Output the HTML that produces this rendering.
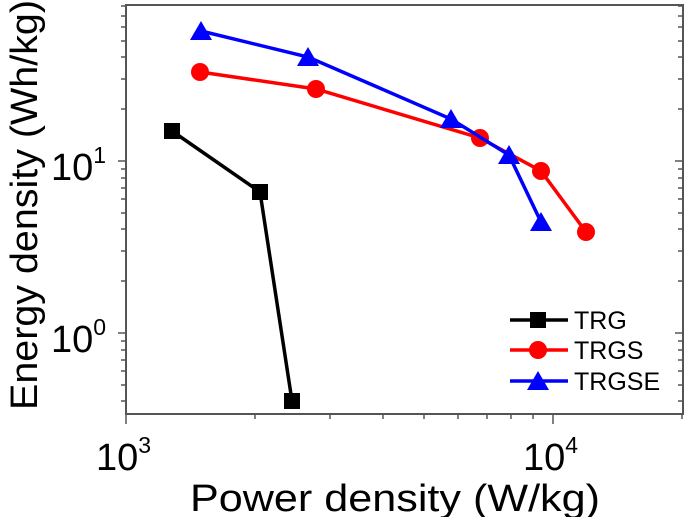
<!DOCTYPE html>
<html><head><style>html,body{margin:0;padding:0;background:#fff;}svg{display:block;}</style></head>
<body>
<svg width="685" height="517" viewBox="0 0 685 517" xmlns="http://www.w3.org/2000/svg" font-family="Liberation Sans, Arial, sans-serif">
<rect width="685" height="517" fill="#fff"/>
<rect x="126" y="5" width="557" height="409" fill="none" stroke="#555" stroke-width="2"/>
<g stroke="#555" stroke-width="1.5">
<line x1="118" y1="161" x2="126" y2="161"/><line x1="118" y1="333" x2="126" y2="333"/>
<line x1="683" y1="161" x2="675" y2="161"/><line x1="683" y1="333" x2="675" y2="333"/>
<g id="ym">
<line x1="121" y1="401" x2="126" y2="401"/>
<line x1="121" y1="385" x2="126" y2="385"/>
<line x1="121" y1="371" x2="126" y2="371"/>
<line x1="121" y1="360" x2="126" y2="360"/>
<line x1="121" y1="350" x2="126" y2="350"/>
<line x1="121" y1="341" x2="126" y2="341"/>
<line x1="121" y1="281" x2="126" y2="281"/>
<line x1="121" y1="251" x2="126" y2="251"/>
<line x1="121" y1="229" x2="126" y2="229"/>
<line x1="121" y1="213" x2="126" y2="213"/>
<line x1="121" y1="199" x2="126" y2="199"/>
<line x1="121" y1="188" x2="126" y2="188"/>
<line x1="121" y1="178" x2="126" y2="178"/>
<line x1="121" y1="169" x2="126" y2="169"/>
<line x1="121" y1="109" x2="126" y2="109"/>
<line x1="121" y1="79" x2="126" y2="79"/>
<line x1="121" y1="57" x2="126" y2="57"/>
<line x1="121" y1="41" x2="126" y2="41"/>
<line x1="121" y1="27" x2="126" y2="27"/>
<line x1="121" y1="16" x2="126" y2="16"/>
<line x1="121" y1="6" x2="126" y2="6"/>
</g>
<use href="#ym" transform="translate(557,0)"/>
<line x1="126" y1="414" x2="126" y2="424"/><line x1="553" y1="414" x2="553" y2="424"/>
<g>
<line x1="255" y1="414" x2="255" y2="419"/>
<line x1="330" y1="414" x2="330" y2="419"/>
<line x1="383" y1="414" x2="383" y2="419"/>
<line x1="424" y1="414" x2="424" y2="419"/>
<line x1="458" y1="414" x2="458" y2="419"/>
<line x1="487" y1="414" x2="487" y2="419"/>
<line x1="511" y1="414" x2="511" y2="419"/>
<line x1="533" y1="414" x2="533" y2="419"/>
<line x1="682" y1="414" x2="682" y2="419"/>
</g>
</g>
<g fill="#000" font-size="38">
<text x="51" y="180">10<tspan font-size="23" dy="-17">1</tspan></text>
<text x="51" y="352">10<tspan font-size="23" dy="-17">0</tspan></text>
<text x="96" y="470">10<tspan font-size="23" dy="-17">3</tspan></text>
<text x="523" y="470">10<tspan font-size="23" dy="-17">4</tspan></text>
</g>
<text x="190" y="511" font-size="38" textLength="410" lengthAdjust="spacingAndGlyphs">Power density (W/kg)</text>
<text transform="translate(37,410) rotate(-90)" font-size="38" textLength="410" lengthAdjust="spacingAndGlyphs">Energy density (Wh/kg)</text>
<polyline points="172,131 260,192 292,401" fill="none" stroke="#000" stroke-width="3.5"/>
<g fill="#000"><rect x="164" y="123" width="16" height="16"/><rect x="252" y="184" width="16" height="16"/><rect x="284" y="393" width="16" height="16"/></g>
<polyline points="200,72 316,89 480,138 541,171 586,232" fill="none" stroke="#f00" stroke-width="3.5"/>
<g fill="#f00"><circle cx="200" cy="72" r="9"/><circle cx="316" cy="89" r="9"/><circle cx="480" cy="138" r="9"/><circle cx="541" cy="171" r="9"/><circle cx="586" cy="232" r="9"/></g>
<polyline points="201,31 308,57 451,119 509,155 541,222" fill="none" stroke="#00f" stroke-width="3.5"/>
<g fill="#00f">
<polygon points="201,21 190,40 212,40"/><polygon points="308,47 297,66 319,66"/><polygon points="451,109 440,128 462,128"/><polygon points="509,145 498,164 520,164"/><polygon points="541,212 530,231 552,231"/>
</g>
<line x1="510" y1="320" x2="568" y2="320" stroke="#000" stroke-width="3.5"/>
<rect x="530" y="312" width="16" height="16" fill="#000"/>
<line x1="510" y1="350" x2="568" y2="350" stroke="#f00" stroke-width="3.5"/>
<circle cx="538" cy="350" r="9" fill="#f00"/>
<line x1="510" y1="381" x2="568" y2="381" stroke="#00f" stroke-width="3.5"/>
<polygon points="538,371 527,390 549,390" fill="#00f"/>
<g font-size="25" fill="#000">
<text x="574" y="329">TRG</text>
<text x="574" y="359">TRGS</text>
<text x="574" y="390">TRGSE</text>
</g>
</svg>
</body></html>
